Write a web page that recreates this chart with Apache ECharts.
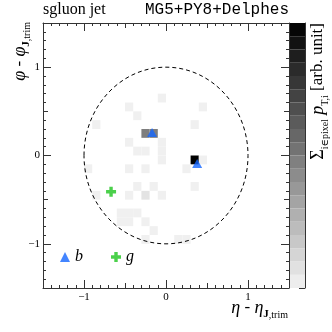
<!DOCTYPE html>
<html>
<head>
<meta charset="utf-8">
<script src="https://cdn.jsdelivr.net/npm/echarts@6/dist/echarts.min.js"></script>
<style>
html, body { margin: 0; padding: 0; background: #fff; }
#main { width: 332px; height: 332px; }
</style>
</head>
<body>
<div id="main"></div>
<script>
// pixel cells: lower-left corner (eta, phi) and summed pT (arb. unit)
var cellEta = [-0.1, -0.5, 0.4, -0.4, -0.9, 0.3, -0.3, -0.2, -0.5, -0.1, -0.1, -0.1, -0.4, -0.3,
    0.3, 0.4, -1.0, -0.5, -0.3, 0.2, -0.4, -0.2, 0.3, -0.9, -0.5, -0.3, -0.1,
    -0.6, -0.5, -0.4, -0.6, -0.5, -0.3, -0.2, -0.3, 0.1, 0.2];
var cellPhi = [0.6, 0.5, 0.5, 0.4, 0.3, 0.3, 0.2, 0.2, 0.1, 0.1, 0.0, -0.1, 0.0, 0.0,
    -0.1, -0.1, -0.2, -0.2, -0.2, -0.2, -0.4, -0.4, -0.4, -0.5, -0.5, -0.5, -0.5,
    -0.7, -0.7, -0.7, -0.8, -0.8, -0.8, -0.9, -1.0, -1.0, -1.0];
var cellPt = [1, 1, 1, 1, 1, 1, 37, 37, 1, 1, 1, 1, 1, 1,
    77, 1, 1, 1, 1, 1, 1, 1, 1, 1, 1, 5, 1,
    1, 1, 1, 1, 1, 1, 1, 1, 1, 1];
var cellSize = 0.1;

// truth partons
var bEta = [-0.17, 0.38];
var bPhi = [0.26, -0.09];
var gEta = [-0.67];
var gPhi = [-0.41];

var jetR = 1.0;
var zMax = 77;
var nBands = 20;
var tickLabels = [-1, 0, 1];

var chart = echarts.init(document.getElementById('main'));
var serif = '"Liberation Serif", "DejaVu Serif", serif';
var lineCol = '#333';
var crossIcon = 'path://M3.3,0H6.7V3.3H10V6.7H6.7V10H3.3V6.7H0V3.3H3.3Z';

var cells = [];
for (var i = 0; i < cellEta.length; i++) {
    cells.push([cellEta[i], cellPhi[i], cellPt[i]]);
}
var bPts = [];
for (var i = 0; i < bEta.length; i++) bPts.push([bEta[i], bPhi[i]]);
var gPts = [];
for (var i = 0; i < gEta.length; i++) gPts.push([gEta[i], gPhi[i]]);

// colour bar bands [lo, hi, mid]
var bands = [];
var step = zMax / nBands;
for (var k = 0; k < nBands; k++) {
    bands.push([k * step, (k + 1) * step, (k + 0.5) * step]);
}

// only label the integer ticks
function labelFmt(v) {
    for (var j = 0; j < tickLabels.length; j++) {
        if (Math.abs(v - tickLabels[j]) < 1e-6) {
            return tickLabels[j] < 0 ? '\u2212' + (-tickLabels[j]) : String(tickLabels[j]);
        }
    }
    return '';
}

// frame axes: main one with 0.5 ticks + minor, second one with long ticks at integers
function frameAxes(pos) {
    var main = {
        gridIndex: 0, type: 'value', min: -1.5, max: 1.5, interval: 0.5, position: pos,
        axisLine: { show: true, onZero: false, lineStyle: { color: lineCol, width: 1 } },
        axisTick: { show: true, inside: true, length: 5, lineStyle: { color: lineCol } },
        minorTick: { show: true, splitNumber: 5, length: 3, lineStyle: { color: lineCol } },
        splitLine: { show: false },
        axisLabel: { show: false }
    };
    var longT = {
        gridIndex: 0, type: 'value', min: -1.5, max: 1.5, interval: 0.5, position: pos,
        axisLine: { show: false, onZero: false },
        axisTick: { show: true, inside: true, length: 8, customValues: tickLabels, lineStyle: { color: lineCol } },
        splitLine: { show: false },
        axisLabel: { show: false }
    };
    return [main, longT];
}

// y tick labels on their own overlay grid
function labelAxis(pos, margin) {
    return {
        gridIndex: 2, type: 'value', min: -1.5, max: 1.5, interval: 0.5, position: pos,
        axisLine: { show: false, onZero: false },
        axisTick: { show: false },
        splitLine: { show: false },
        axisLabel: {
            show: true, formatter: labelFmt, showMinLabel: false, showMaxLabel: false,
            fontFamily: serif, fontSize: 11, color: '#000', margin: margin
        }
    };
}

function renderCell(params, api) {
    var p0 = api.coord([api.value(0), api.value(1) + cellSize]);
    var p1 = api.coord([api.value(0) + cellSize, api.value(1)]);
    return {
        type: 'rect',
        shape: { x: p0[0], y: p0[1], width: p1[0] - p0[0], height: p1[1] - p0[1] },
        style: { fill: api.visual('color') }
    };
}

function renderJet(params, api) {
    var c = api.coord([api.value(0), api.value(1)]);
    var ex = api.coord([api.value(0) + api.value(2), api.value(1)]);
    var ey = api.coord([api.value(0), api.value(1) + api.value(2)]);
    return {
        type: 'ellipse',
        shape: { cx: c[0], cy: c[1], rx: ex[0] - c[0], ry: c[1] - ey[1] },
        style: { fill: 'none', stroke: '#000', lineWidth: 1, lineDash: [4, 3] }
    };
}

function renderBand(params, api) {
    var p0 = api.coord([0, api.value(1)]);
    var p1 = api.coord([1, api.value(0)]);
    return {
        type: 'rect',
        shape: { x: p0[0], y: p0[1], width: p1[0] - p0[0], height: p1[1] - p0[1] },
        style: { fill: api.visual('color') }
    };
}

var xAxes = frameAxes('bottom').concat(frameAxes('top'));
xAxes.push({ gridIndex: 1, type: 'value', min: 0, max: 1, show: false });
xAxes.push({ gridIndex: 2, type: 'value', min: -1.5, max: 1.5, show: false });
var yAxes = frameAxes('left').concat(frameAxes('right'));
yAxes.push({
    gridIndex: 1, type: 'value', min: 0, max: zMax, interval: 10, position: 'right',
    axisLine: { show: true, onZero: false, lineStyle: { color: lineCol } },
    axisTick: { show: true, inside: true, length: 6, lineStyle: { color: lineCol } },
    splitLine: { show: false },
    axisLabel: { show: false }
});
yAxes.push(labelAxis('left', 3));

var titleRich = {
    i: { fontFamily: serif, fontStyle: 'italic', fontSize: 18, lineHeight: 24 },
    b: { fontFamily: serif, fontWeight: 'bold', fontSize: 11, lineHeight: 12, verticalAlign: 'bottom' },
    s: { fontFamily: serif, fontSize: 10, lineHeight: 12, verticalAlign: 'bottom' },
    m: { fontFamily: serif, fontSize: 18, lineHeight: 24 }
};

var graphics = [
    {
        type: 'text', x: 43, y: 10,
        style: { text: 'sgluon jet', font: '16px ' + serif, fill: '#000', verticalAlign: 'middle' }
    },
    {
        type: 'text', x: 289, y: 10,
        style: { text: 'MG5+PY8+Delphes', font: '16px "Liberation Mono", monospace', fill: '#000', align: 'right', verticalAlign: 'middle' }
    },
    {
        type: 'text', x: 288, y: 308,
        style: {
            text: '{i|\u03b7} - {i|\u03b7}{b|J}{s|,trim}', font: '17px ' + serif, lineHeight: 24,
            fill: '#000', align: 'right', verticalAlign: 'middle', rich: titleRich
        }
    },
    {
        type: 'text', x: 20, y: 22, rotation: Math.PI / 2,
        style: {
            text: '{i|\u03c6} - {i|\u03c6}{b|J}{s|,trim}', font: '17px ' + serif, lineHeight: 24,
            fill: '#000', align: 'right', verticalAlign: 'middle', rich: titleRich
        }
    },
    {
        type: 'text', x: 318, y: 23, rotation: Math.PI / 2,
        style: {
            text: '{m|\u03a3}{s|i\u2208pixel} {i|p}{s|T,i} [arb. unit]', font: '17px ' + serif, lineHeight: 24,
            fill: '#000', align: 'right', verticalAlign: 'middle', rich: titleRich
        }
    }
];

var option = {
    animation: false,
    grid: [
        { left: 43, top: 23, width: 246, height: 265 },
        { left: 290, top: 23, width: 15, height: 265 },
        { left: 43, top: 23, width: 246, height: 265 }
    ],
    xAxis: xAxes,
    yAxis: yAxes,
    visualMap: {
        type: 'continuous', show: false, min: 0, max: zMax,
        dimension: 2, seriesIndex: [0, 4],
        inRange: { color: ['#f3f3f3', '#000000'] }
    },
    legend: {
        left: 60, top: 249, padding: 0, itemWidth: 10, itemHeight: 10, itemGap: 28,
        selectedMode: false,
        data: [{ name: 'b', icon: 'triangle' }, { name: 'g', icon: crossIcon }],
        textStyle: { fontFamily: serif, fontStyle: 'italic', fontSize: 16, color: '#000' }
    },
    series: [
        {
            type: 'custom', xAxisIndex: 0, yAxisIndex: 0, renderItem: renderCell,
            data: cells, clip: true, z: 1, silent: true
        },
        {
            type: 'custom', xAxisIndex: 0, yAxisIndex: 0, renderItem: renderJet,
            data: [[0, 0, jetR]], z: 2, silent: true
        },
        {
            name: 'b', type: 'scatter', xAxisIndex: 0, yAxisIndex: 0, data: bPts,
            symbol: 'triangle', symbolSize: [10, 9], itemStyle: { color: '#1466ff' }, z: 3
        },
        {
            name: 'g', type: 'scatter', xAxisIndex: 0, yAxisIndex: 0, data: gPts,
            symbol: crossIcon, symbolSize: 10, itemStyle: { color: '#1ec41e' }, z: 3
        },
        {
            type: 'custom', xAxisIndex: 4, yAxisIndex: 4, renderItem: renderBand,
            data: bands, z: 1, silent: true
        }
    ],
    graphic: graphics
};
chart.setOption(option);

// x tick labels placed through the x scale, on their own top layer
var xLabels = [];
for (var i = 0; i < tickLabels.length; i++) {
    var p = chart.convertToPixel({ xAxisIndex: 0, yAxisIndex: 0 }, [tickLabels[i], -1.5]);
    xLabels.push({
        type: 'text', x: p[0], y: p[1] + 4, zlevel: 10, z: 100,
        style: { text: ' ' + labelFmt(tickLabels[i]) + ' ', font: '11px ' + serif, fill: '#000', align: 'center', verticalAlign: 'top' }
    });
}
chart.setOption({ graphic: graphics.concat(xLabels) });
</script>
</body>
</html>
